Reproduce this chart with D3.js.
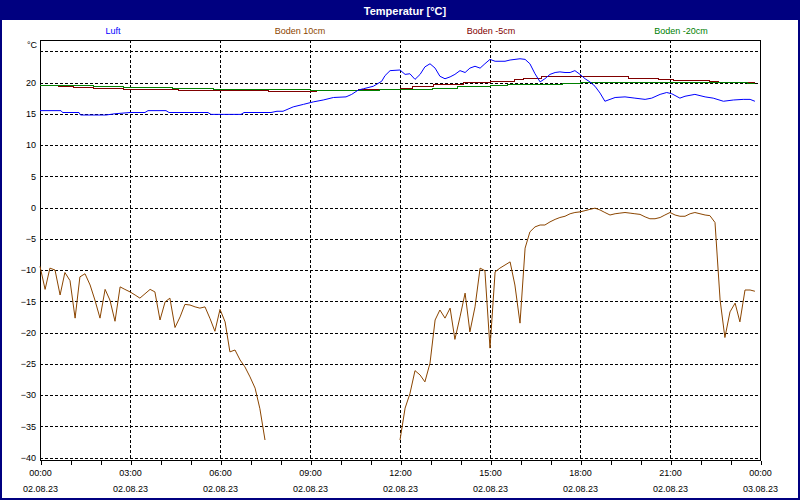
<!DOCTYPE html>
<html>
<head>
<meta charset="utf-8">
<script src="https://cdn.jsdelivr.net/npm/d3@7/dist/d3.min.js"></script>
<style>
  html, body { margin: 0; padding: 0; background: #fff; }
  svg { display: block; }
  text { font-family: "Liberation Sans", Arial, sans-serif; }
</style>
</head>
<body>
<svg id="chart" width="800" height="500"></svg>
<script>
// ---------- data (hours since 02.08.23 00:00, °C) ----------
const title = "Temperatur [°C]";
const seriesNames = ["Luft", "Boden 10cm", "Boden -5cm", "Boden -20cm"];
const seriesColors = ["#0000ff", "#8b4500", "#800000", "#008000"];

const timeLabels = ["00:00","03:00","06:00","09:00","12:00","15:00","18:00","21:00","00:00"];
const dateLabels = ["02.08.23","02.08.23","02.08.23","02.08.23","02.08.23","02.08.23","02.08.23","02.08.23","03.08.23"];
const yTickValues = [-40,-35,-30,-25,-20,-15,-10,-5,0,5,10,15,20];
const yGridValues = [-40,-35,-30,-25,-20,-15,-10,-5,0,5,10,15,20,25];

// Luft
const luftTimes = [0,0.7,0.75,1.3,1.35,2.2,2.5,3.0,3.5,3.6,4.2,4.3,5.6,5.7,6.7,6.8,7.7,7.9,8.1,8.44,8.78,9.11,9.44,9.78,10.2,10.39,10.61,10.78,11.11,11.39,11.5,11.67,12.0,12.17,12.33,12.5,12.67,12.83,13.0,13.17,13.33,13.5,13.67,13.83,14.0,14.17,14.33,14.5,14.67,14.83,15.0,15.17,15.5,15.67,16.0,16.17,16.33,16.5,16.67,16.83,17.0,17.17,17.33,17.5,17.67,17.83,18.0,18.17,18.33,18.5,18.67,18.83,19.0,19.17,19.5,19.83,20.17,20.39,20.67,20.89,21.06,21.33,21.5,21.83,22.17,22.44,22.78,23.11,23.44,23.67,23.83];
const luftValues = [15.5,15.5,15.2,15.2,14.8,14.8,15.0,15.2,15.2,15.5,15.5,15.2,15.2,14.9,14.9,15.2,15.2,15.4,15.4,16.1,16.5,16.9,17.2,17.6,17.7,18.1,18.8,19.0,19.4,20.2,21.1,21.9,22.0,21.3,21.4,20.5,21.3,22.5,23.0,22.3,21.0,20.6,20.9,21.3,21.9,21.6,22.3,22.6,22.3,23.0,23.7,23.4,23.4,23.6,23.8,23.7,23.0,21.4,20.1,20.6,21.3,21.6,21.7,21.6,21.6,21.9,21.3,20.6,20.1,19.4,18.3,17.0,17.3,17.6,17.7,17.5,17.3,17.5,18.1,18.4,18.2,17.5,17.8,18.1,17.7,17.5,17.0,17.2,17.3,17.3,17.0];

// Boden 10cm (null = no data)
const boden10Times = [0,0.17,0.33,0.5,0.67,0.83,1.0,1.17,1.33,1.5,1.67,1.83,2.0,2.17,2.33,2.5,2.67,2.83,3.0,3.17,3.33,3.5,3.67,3.83,4.0,4.17,4.33,4.5,4.67,4.83,5.0,5.17,5.33,5.5,5.67,5.83,6.0,6.17,6.33,6.5,6.67,6.83,7.0,7.17,7.33,7.5,
  9.0,
  12.0,12.17,12.33,12.5,12.67,12.83,13.0,13.17,13.33,13.5,13.67,13.83,14.0,14.17,14.33,14.5,14.67,14.83,15.0,15.17,15.33,15.5,15.67,15.83,16.0,16.17,16.33,16.5,16.67,16.83,17.0,17.17,17.33,17.5,17.67,17.83,18.0,18.17,18.33,18.5,18.67,18.83,19.0,19.17,19.33,19.5,19.67,19.83,20.0,20.17,20.33,20.5,20.67,20.83,21.0,21.17,21.33,21.5,21.67,21.83,22.0,22.17,22.33,22.5,22.67,22.83,23.0,23.17,23.33,23.5,23.67,23.83];
const boden10Values = [-9.4,-13.1,-9.7,-10.0,-14.0,-10.4,-11.7,-17.7,-11.1,-10.6,-12.4,-14.8,-17.7,-13.1,-14.8,-18.2,-12.7,-13.1,-13.5,-14.0,-14.5,-13.8,-13.1,-13.5,-18.0,-15.1,-14.5,-19.2,-17.5,-15.5,-15.6,-15.9,-16.1,-15.9,-17.8,-19.8,-16.3,-18.3,-23.1,-22.8,-24.4,-25.5,-27.1,-28.9,-32.2,-37.2,
  null,
  -37.2,-32.1,-29.8,-26.1,-26.8,-27.9,-24.9,-18.0,-16.4,-17.7,-16.1,-21.1,-17.5,-13.7,-19.9,-15.9,-9.7,-10.1,-22.5,-10.3,-9.7,-9.2,-8.7,-12.4,-18.5,-6.5,-3.9,-3.1,-2.8,-2.8,-2.3,-1.9,-1.6,-1.4,-1.0,-0.8,-0.7,-0.5,-0.3,-0.1,-0.4,-0.8,-1.2,-1.0,-0.9,-0.8,-0.9,-1.0,-1.1,-1.5,-1.8,-1.8,-1.6,-1.2,-0.8,-1.2,-1.4,-1.4,-1.0,-0.8,-1.0,-1.2,-1.3,-2.4,-14.8,-20.8,-16.7,-15.3,-18.3,-13.2,-13.2,-13.4];

// Boden -5cm (step changes)
const boden5Times = [0.6,1.1,1.77,2.77,4.6,7.6,9.23,10.6,12.0,12.4,13.1,14.1,15.0,15.8,16.1,16.7,19.6,20.6,21.1,22.3,22.6,23.83];
const boden5Values = [19.4,19.2,19.1,18.95,18.8,18.6,18.8,18.9,19.1,19.4,19.7,19.95,20.2,20.5,20.65,20.9,20.65,20.5,20.3,20.1,20.0,20.0];

// Boden -20cm (step changes)
const boden20Times = [0,1.77,2.77,4.43,5.77,9.0,11.3,13.07,13.93,15.0,15.57,17.4,18.0,23.57,23.83];
const boden20Values = [19.6,19.4,19.2,19.05,18.9,18.8,18.9,19.1,19.3,19.5,19.7,19.9,20.0,19.9,19.9];

// ---------- layout ----------
const W = 800, H = 500;
const plot = { left: 40, top: 40, right: 760, bottom: 460 };
const svg = d3.select("#chart");

const x = d3.scaleLinear().domain([0, 24]).range([plot.left, plot.right]);
const y = d3.scaleLinear().domain([-40.4, 26.8]).range([plot.bottom, plot.top]);
const px = v => Math.round(v) + 0.5;

// background & frame
svg.append("rect").attr("x", 0).attr("y", 0).attr("width", W).attr("height", H).attr("fill", "#fff");
svg.append("rect").attr("x", 1).attr("y", 1).attr("width", W - 2).attr("height", H - 2)
  .attr("fill", "none").attr("stroke", "#000080").attr("stroke-width", 2);
svg.append("rect").attr("x", 0).attr("y", 0).attr("width", W).attr("height", 20).attr("fill", "#000080");
svg.append("text").attr("x", 405).attr("y", 14.5).attr("text-anchor", "middle")
  .attr("fill", "#fff").attr("font-size", 11).attr("font-weight", "bold").text(title);

// legend
const legendX = [113, 300, 491, 681];
svg.append("g").selectAll("text").data(seriesNames).join("text")
  .attr("x", (d, i) => legendX[i]).attr("y", 34).attr("text-anchor", "middle")
  .attr("font-size", 9).attr("fill", (d, i) => seriesColors[i]).text(d => d);

// grid
const grid = svg.append("g").attr("stroke", "#000").attr("stroke-width", 1)
  .attr("stroke-dasharray", "3,2").attr("shape-rendering", "crispEdges");
grid.selectAll("line.h").data(yGridValues).join("line").attr("class", "h")
  .attr("x1", plot.left).attr("x2", plot.right)
  .attr("y1", d => px(y(d))).attr("y2", d => px(y(d)));
grid.selectAll("line.v").data(d3.range(3, 24, 3)).join("line").attr("class", "v")
  .attr("y1", plot.top).attr("y2", plot.bottom)
  .attr("x1", d => px(x(d))).attr("x2", d => px(x(d)));

// axes
const xAxis = d3.axisBottom(x).tickValues(d3.range(0, 25)).tickSize(4).tickFormat("");
const gx = svg.append("g").attr("transform", `translate(0.5,${plot.bottom + 0.5})`).call(xAxis);
gx.select(".domain").remove();
gx.selectAll("line").attr("stroke", "#000").attr("shape-rendering", "crispEdges");

const labelIdx = d3.range(0, 9);
svg.append("g").selectAll("text.t").data(labelIdx).join("text").attr("class", "t")
  .attr("x", i => x(i * 3) + 0.5).attr("y", 476).attr("text-anchor", "middle")
  .attr("font-size", 9).attr("fill", "#000").text(i => timeLabels[i]);
svg.append("g").selectAll("text.d").data(labelIdx).join("text").attr("class", "d")
  .attr("x", i => x(i * 3) + 0.5).attr("y", 492).attr("text-anchor", "middle")
  .attr("font-size", 9).attr("fill", "#000").text(i => dateLabels[i]);

const yAxis = d3.axisLeft(y).tickValues(yTickValues).tickSize(0).tickPadding(4).tickFormat(d3.format("d"));
const gy = svg.append("g").attr("transform", `translate(${plot.left},0)`).call(yAxis);
gy.select(".domain").remove();
gy.selectAll("text").attr("font-size", 9).attr("fill", "#000")
  .attr("font-family", "Liberation Sans, Arial, sans-serif");
svg.append("text").attr("x", 37).attr("y", 48).attr("text-anchor", "end")
  .attr("font-size", 9).attr("fill", "#000").text("°C");

// plot frame
svg.append("rect").attr("x", plot.left + 0.5).attr("y", plot.top + 0.5)
  .attr("width", plot.right - plot.left).attr("height", plot.bottom - plot.top)
  .attr("fill", "none").attr("stroke", "#000").attr("shape-rendering", "crispEdges");

// series
function pts(times, values) { return times.map((t, i) => ({ t, v: values[i] })); }
const lineLinear = d3.line().defined(d => d.v !== null).x(d => x(d.t)).y(d => y(d.v));
const lineStep = d3.line().curve(d3.curveStepAfter).x(d => x(d.t)).y(d => y(d.v));

const gs = svg.append("g").attr("fill", "none").attr("stroke-width", 1);
gs.append("path").datum(pts(boden10Times, boden10Values)).attr("d", lineLinear).attr("stroke", seriesColors[1]);
gs.append("path").datum(pts(boden5Times, boden5Values)).attr("d", lineStep).attr("stroke", seriesColors[2]).attr("shape-rendering", "crispEdges");
gs.append("path").datum(pts(boden20Times, boden20Values)).attr("d", lineStep).attr("stroke", seriesColors[3]).attr("shape-rendering", "crispEdges");
gs.append("path").datum(pts(luftTimes, luftValues)).attr("d", lineLinear).attr("stroke", seriesColors[0]);
</script>
</body>
</html>
